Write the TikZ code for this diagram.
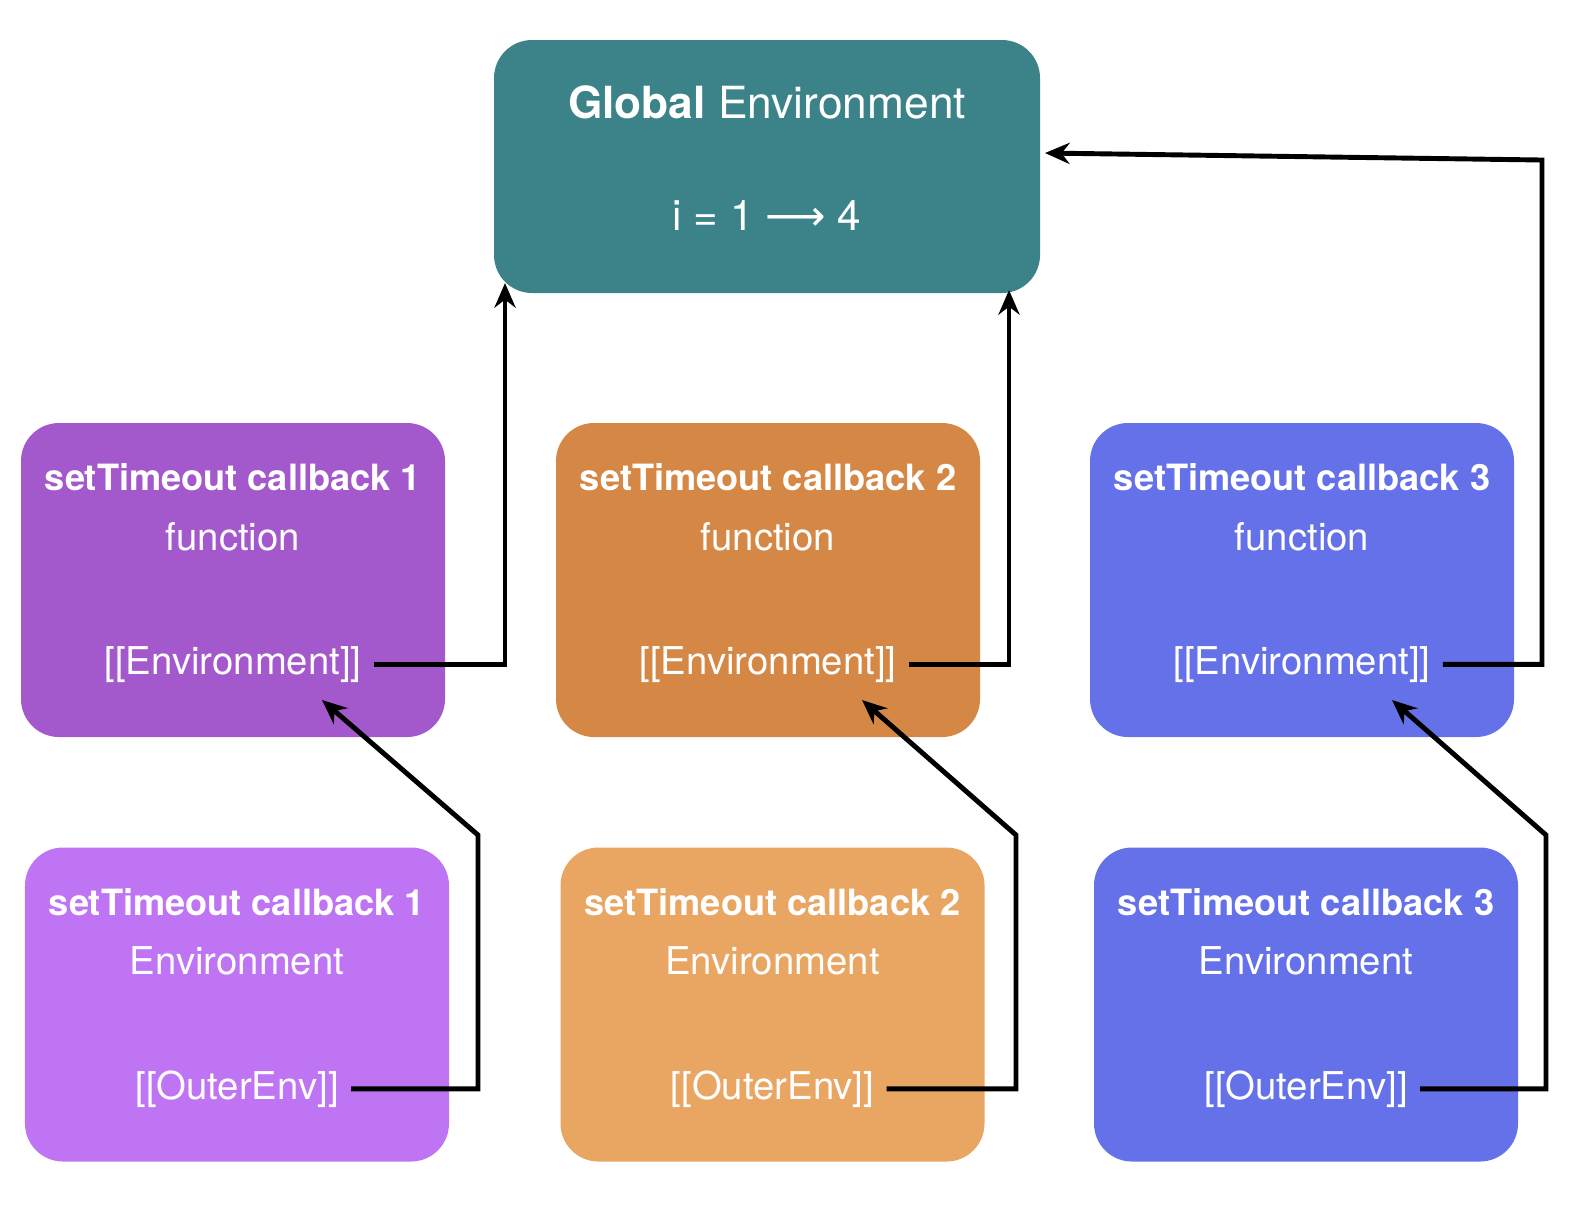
\documentclass[tikz,border=0pt]{standalone}
\usepackage{fontspec}
\setmainfont{TeX Gyre Heros}
\newfontfamily\arrowfont{DejaVu Sans}
\usetikzlibrary{arrows.meta,calc}

\definecolor{globcol}{HTML}{3B8388}
\definecolor{funa}{HTML}{A358CC}
\definecolor{funb}{HTML}{D58845}
\definecolor{func}{HTML}{6571E9}
\definecolor{enva}{HTML}{BE74F3}
\definecolor{envb}{HTML}{E9A562}
\definecolor{envc}{HTML}{6571E9}

\begin{document}
\begin{tikzpicture}[
  envbox/.style={rounded corners=0.38cm, minimum width=4.24cm, minimum height=3.14cm, inner sep=0pt},
  txt/.style={text=white, font=\fontsize{10.9}{13}\selectfont},
  ttl/.style={text=white, font=\bfseries\fontsize{10.3}{13}\selectfont},
  link/.style={line width=1.4pt, -{Stealth[length=7pt,width=6pt]}}
]
\useasboundingbox (0,0) rectangle (15.86,-12.14);

	%global environment
 \node[envbox, fill=globcol, minimum width=5.46cm, minimum height=2.53cm] (glob) at (7.67,-1.665) {};
 \node[ttl, font=\bfseries\fontsize{12.6}{15}\selectfont] (globtitle) at ($(glob.north)+(0,-0.63)$) {Global {\mdseries Environment}};
 \node[txt, font=\fontsize{12}{14}\selectfont] (iloop) at ($(glob.north)+(0,-1.76)$) {i = 1 {\arrowfont ⟶} 4};

	%callback functions
    \foreach \x/\n/\col in {2.33/1/funa,7.68/2/funb,13.02/3/func}{
         \node[envbox, fill=\col] (fun\n) at (\x,-5.80) {};
         \node[ttl] (funtitle\n) at ($(fun\n.north)+(0,-0.55)$) {setTimeout callback \n};
         \node[txt] (funkind\n) at ($(fun\n.north)+(0,-1.14)$) {function};
         \node[txt] (env\n) at ($(fun\n.north)+(0,-2.42)$) {[[Environment]]};
    }

	%callback environments
    \foreach \x/\n/\col in {2.37/1/enva,7.725/2/envb,13.06/3/envc}{
         \node[envbox, fill=\col] (cbenv\n) at (\x,-10.045) {};
         \node[ttl] (envtitle\n) at ($(cbenv\n.north)+(0,-0.55)$) {setTimeout callback \n};
         \node[txt] (envkind\n) at ($(cbenv\n.north)+(0,-1.14)$) {Environment};
         \node[txt] (outer\n) at ($(cbenv\n.north)+(0,-2.42)$) {[[OuterEnv]]};
    }

	%where the links end
 \coordinate (g1) at (5.05,-2.83);
 \coordinate (g2) at (10.09,-2.90);
 \coordinate (c3) at (15.42,-1.60);
 \coordinate (g3) at (10.45,-1.53);
    \foreach \n/\bx/\ex in {1/4.78/3.22,2/10.16/8.62,3/15.46/13.92}{
         \coordinate (b\n) at (\bx,-8.35);
         \coordinate (e\n) at (\ex,-7.00);
    }

\draw[link] (env1.east) -| (g1);
\draw[link] (env2.east) -| (g2);
\draw[link] (env3.east) -| (c3) -- (g3);
    \foreach \n in {1,2,3}{
         \draw[link] (outer\n.east) -| (b\n) -- (e\n);
    }

\end{tikzpicture}
\end{document}
